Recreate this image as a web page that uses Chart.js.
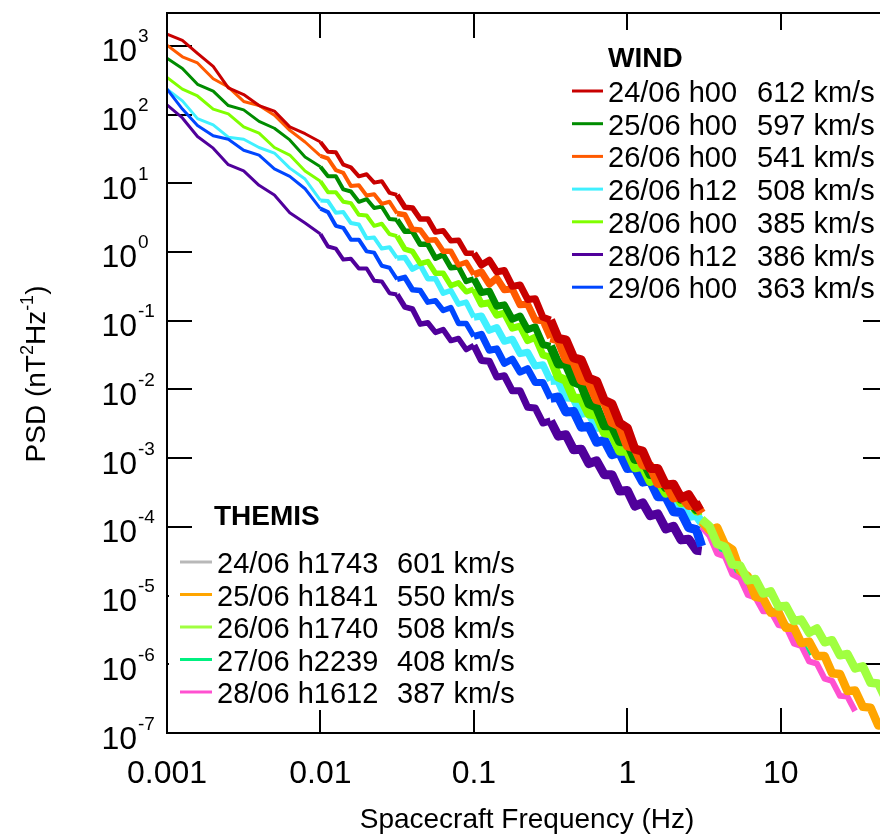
<!DOCTYPE html>
<html>
<head>
<meta charset="utf-8">
<script src="https://cdn.jsdelivr.net/npm/chart.js@4.4.0/dist/chart.umd.min.js"></script>
<style>
  html, body { margin: 0; padding: 0; overflow: hidden; background: #fff; }
  #wrap { width: 900px; height: 834px; }
</style>
</head>
<body>
<div id="wrap"><canvas id="psd" width="900" height="834"></canvas></div>
<script>
// Frecuencias (Hz)
const windFreq = [
  0.001, 0.00126, 0.00158, 0.002, 0.00251, 0.00316, 0.00398, 0.00501, 0.00631, 0.00794,
  0.01, 0.0112, 0.0126, 0.0141, 0.0158, 0.0178, 0.02, 0.0224, 0.0251, 0.0282,
  0.0316, 0.0355, 0.0398, 0.0447, 0.0501, 0.0562, 0.0631, 0.0708, 0.0794, 0.0891,
  0.1, 0.112, 0.126, 0.141, 0.158, 0.178, 0.2, 0.224, 0.251, 0.282,
  0.316, 0.355, 0.398, 0.447, 0.501, 0.562, 0.631, 0.708, 0.794, 0.891,
  1, 1.12, 1.26, 1.41, 1.58, 1.78, 2, 2.24, 2.51, 2.82, 3.05
];
const themisFreq = [
  3.05, 3.43, 3.85, 4.32, 4.84, 5.43, 6.10, 6.84, 7.67, 8.61, 9.66, 10.8, 12.2,
  13.6, 15.3, 17.2, 19.3, 21.6, 24.3, 27.2, 30.5, 34.3, 38.5, 43.2, 48.4
];

// WIND (nT^2/Hz)
const wind2406h00 = [
  1480, 1200, 776, 501, 245, 195, 135, 112, 66, 52.5,
  39.8, 28.8, 28.2, 18.6, 17.0, 12.6, 13.5, 10.2, 10.7, 7.24,
  6.76, 4.47, 4.37, 3.02, 3.02, 1.95, 2.04, 1.45, 1.48, 0.955,
  0.955, 0.646, 0.759, 0.513, 0.537, 0.316, 0.331, 0.204, 0.209, 0.112,
  0.102, 0.055, 0.0525, 0.0288, 0.0269, 0.0145, 0.0132, 6.92e-3, 6.17e-3, 3.24e-3,
  2.75e-3, 1.35e-3, 1.26e-3, 7.08e-4, 7.08e-4, 4.07e-4, 4.17e-4, 2.63e-4, 2.95e-4, 1.95e-4,
  2.14e-4
];
const wind2506h00 = [
  661, 468, 275, 219, 135, 117, 79.4, 63.1, 42.7, 24.0,
  17.4, 12.6, 12.6, 8.13, 7.59, 5.37, 5.89, 4.37, 4.57, 3.02,
  2.95, 2.00, 2.00, 1.29, 1.29, 0.813, 0.912, 0.589, 0.603, 0.372,
  0.407, 0.257, 0.269, 0.162, 0.170, 0.105, 0.117, 0.0741, 0.0813, 0.0447,
  0.0427, 0.0234, 0.0234, 0.0129, 0.0117, 6.17e-3, 5.50e-3, 2.95e-3, 2.95e-3, 1.74e-3,
  1.70e-3, 9.55e-4, 9.55e-4, 5.75e-4, 5.62e-4, 3.72e-4, 3.63e-4, 2.51e-4, 2.45e-4, 1.78e-4,
  1.91e-4
];
const wind2606h00 = [
  1020, 692, 562, 331, 251, 155, 135, 97.7, 58.9, 39.8,
  25.1, 22.9, 15.5, 14.1, 9.12, 9.33, 6.61, 6.92, 5.01, 5.37,
  3.63, 3.47, 2.14, 2.09, 1.48, 1.51, 1.02, 1.02, 0.646, 0.708,
  0.468, 0.513, 0.339, 0.417, 0.282, 0.288, 0.170, 0.174, 0.102, 0.100,
  0.0562, 0.0525, 0.0275, 0.0257, 0.0135, 0.0129, 7.08e-3, 6.61e-3, 3.31e-3, 2.95e-3,
  1.51e-3, 1.41e-3, 7.94e-4, 7.76e-4, 4.27e-4, 4.27e-4, 2.63e-4, 2.82e-4, 2.04e-4, 2.09e-4,
  1.58e-4
];
const wind2606h12 = [
  234, 158, 87.1, 70.8, 46.8, 43.7, 33.1, 27.5, 16.6, 11.5,
  5.62, 5.50, 3.72, 3.80, 2.63, 2.51, 1.58, 1.62, 1.12, 1.17,
  0.813, 0.832, 0.562, 0.646, 0.407, 0.407, 0.251, 0.275, 0.174, 0.186,
  0.112, 0.117, 0.0724, 0.0794, 0.0501, 0.0537, 0.0331, 0.0347, 0.0219, 0.0229,
  0.0135, 0.0138, 7.76e-3, 7.59e-3, 4.47e-3, 4.68e-3, 2.82e-3, 2.82e-3, 1.58e-3, 1.62e-3,
  9.55e-4, 9.55e-4, 5.62e-4, 5.37e-4, 3.31e-4, 3.24e-4, 2.09e-4, 2.14e-4, 1.41e-4, 1.48e-4,
  1.15e-4
];
const wind2806h00 = [
  347, 234, 186, 120, 102, 66.1, 53.7, 33.1, 25.7, 15.1,
  10.7, 7.41, 7.41, 5.37, 5.13, 3.47, 3.39, 2.40, 2.57, 1.82,
  1.70, 1.10, 1.02, 0.676, 0.724, 0.490, 0.490, 0.324, 0.355, 0.263,
  0.288, 0.174, 0.182, 0.120, 0.129, 0.0776, 0.0832, 0.0513, 0.0575, 0.0316,
  0.0295, 0.0151, 0.0135, 7.41e-3, 7.41e-3, 4.37e-3, 4.27e-3, 2.34e-3, 2.24e-3, 1.26e-3,
  1.26e-3, 7.24e-4, 7.59e-4, 4.57e-4, 4.90e-4, 3.09e-4, 3.47e-4, 2.24e-4, 2.45e-4, 1.70e-4,
  1.74e-4
];
const wind2806h12 = [
  138, 89.1, 47.9, 32.4, 18.6, 15.1, 9.33, 6.76, 3.72, 2.63,
  1.82, 1.20, 1.12, 0.776, 0.794, 0.575, 0.575, 0.380, 0.372, 0.251,
  0.240, 0.158, 0.148, 0.0891, 0.0933, 0.0676, 0.0741, 0.0513, 0.0550, 0.0380,
  0.0437, 0.0263, 0.0257, 0.0151, 0.0158, 9.55e-3, 9.55e-3, 5.50e-3, 5.37e-3, 3.24e-3,
  3.47e-3, 2.09e-3, 2.19e-3, 1.32e-3, 1.35e-3, 8.32e-4, 9.12e-4, 5.75e-4, 5.75e-4, 3.31e-4,
  3.39e-4, 2.00e-4, 2.24e-4, 1.45e-4, 1.55e-4, 9.33e-5, 1.02e-4, 6.46e-5, 6.61e-5, 4.57e-5,
  4.47e-5
];
const wind2906h00 = [
  234, 120, 69.2, 49.0, 43.7, 30.2, 25.7, 16.2, 12.6, 8.32,
  4.27, 3.80, 2.40, 2.24, 1.51, 1.51, 1.02, 0.977, 0.631, 0.589,
  0.398, 0.427, 0.282, 0.275, 0.186, 0.195, 0.141, 0.155, 0.0912, 0.0912,
  0.0589, 0.0631, 0.0372, 0.0389, 0.0240, 0.0275, 0.0178, 0.0200, 0.0126, 0.0126,
  7.41e-3, 7.76e-3, 4.68e-3, 4.79e-3, 2.82e-3, 2.88e-3, 1.70e-3, 1.82e-3, 1.12e-3, 1.20e-3,
  7.08e-4, 7.24e-4, 4.47e-4, 4.68e-4, 2.75e-4, 2.75e-4, 1.66e-4, 1.62e-4, 9.77e-5, 9.12e-5,
  5.25e-5
];

// THEMIS (nT^2/Hz)
const themis2406 = [
  1.23e-4, 9.55e-5, 6.03e-5, 4.68e-5, 3.02e-5, 2.51e-5, 1.82e-5, 1.58e-5, 1.15e-5, 1.02e-5,
  7.41e-6, 6.46e-6, 4.68e-6, 4.07e-6, 3.09e-6, 2.95e-6, 2.24e-6, 2.04e-6, 1.45e-6, 1.32e-6,
  9.33e-7, 8.51e-7, 5.75e-7, 4.90e-7, 3.31e-7
];
const themis2506 = [
  1.20e-4, 8.91e-5, 9.77e-5, 5.50e-5, 4.68e-5, 2.29e-5, 1.91e-5, 9.55e-6, 9.12e-6, 5.62e-6,
  5.75e-6, 3.39e-6, 3.39e-6, 2.04e-6, 2.14e-6, 1.32e-6, 1.32e-6, 7.41e-7, 7.24e-7, 4.07e-7,
  4.17e-7, 2.40e-7, 2.34e-7, 1.29e-7, 1.32e-7
];
const themis2606 = [
  1.29e-4, 1.02e-4, 5.62e-5, 5.13e-5, 2.82e-5, 2.75e-5, 1.66e-5, 1.74e-5, 1.07e-5, 1.15e-5,
  6.92e-6, 7.08e-6, 4.27e-6, 4.47e-6, 2.88e-6, 3.31e-6, 2.09e-6, 2.24e-6, 1.35e-6, 1.41e-6,
  8.71e-7, 9.33e-7, 5.37e-7, 5.25e-7, 3.09e-7
];
const themis2706 = [
  1.10e-4, 7.59e-5, 5.01e-5, 3.98e-5, 2.51e-5, 2.00e-5, 1.32e-5, 1.05e-5, 7.24e-6, 6.31e-6,
  4.37e-6, 3.80e-6, 2.40e-6, 2.09e-6, 1.32e-6
];
const themis2806 = [
  1.00e-4, 7.41e-5, 4.07e-5, 3.72e-5, 2.04e-5, 1.78e-5, 1.02e-5, 9.33e-6, 5.89e-6, 5.89e-6,
  3.72e-6, 3.55e-6, 2.00e-6, 1.86e-6, 1.10e-6, 1.02e-6, 6.17e-7, 5.75e-7, 3.47e-7, 3.39e-7,
  2.09e-7
];

// Leyendas
const windLabels = ["24/06 h00", "25/06 h00", "26/06 h00", "26/06 h12", "28/06 h00", "28/06 h12", "29/06 h00"];
const windSpeeds = ["612 km/s", "597 km/s", "541 km/s", "508 km/s", "385 km/s", "386 km/s", "363 km/s"];
const themisLabels = ["24/06 h1743", "25/06 h1841", "26/06 h1740", "27/06 h2239", "28/06 h1612"];
const themisSpeeds = ["601 km/s", "550 km/s", "508 km/s", "408 km/s", "387 km/s"];

// Ejes
const xTicks = [0.001, 0.01, 0.1, 1, 10];
const xTickLabels = ["0.001", "0.01", "0.1", "1", "10"];
const yTicks = [1e3, 1e2, 1e1, 1, 1e-1, 1e-2, 1e-3, 1e-4, 1e-5, 1e-6, 1e-7];
const yTickExp = ["3", "2", "1", "0", "-1", "-2", "-3", "-4", "-5", "-6", "-7"];

const windColors = ["#c80000", "#008c00", "#ff5a00", "#40f0ff", "#80ff00", "#50009b", "#0046ff"];
const windOrder = [1, 3, 2, 6, 4, 7, 5];
const windData = [wind2406h00, wind2506h00, wind2606h00, wind2606h12, wind2806h00, wind2806h12, wind2906h00];
const themisColors = ["#b8b8b8", "#ffa500", "#a0ff40", "#00f080", "#ff50d0"];
const themisOrder = [9, 2, 1, 4, 3];
const themisData = [themis2406, themis2506, themis2606, themis2706, themis2806];

const FONT = "'Liberation Sans', Arial, Helvetica, sans-serif";
Chart.defaults.font.family = FONT;

// grosor según frecuencia (las bandas se ensanchan con el ruido)
function windWidth(ctx) {
  const f = windFreq[ctx.p0DataIndex];
  if (f < 0.01) return 3;
  if (f < 0.03) return 4;
  if (f < 0.1) return 5.5;
  if (f < 0.3) return 7;
  return 9;
}

const datasets = [];
windData.forEach((vals, i) => {
  datasets.push({
    label: windLabels[i],
    data: vals.map((v, k) => ({ x: windFreq[k], y: v })),
    borderColor: windColors[i],
    backgroundColor: windColors[i],
    borderWidth: 3,
    borderJoinStyle: "round",
    borderCapStyle: "butt",
    pointRadius: 0,
    tension: 0,
    order: windOrder[i],
    segment: { borderWidth: windWidth }
  });
});
themisData.forEach((vals, i) => {
  datasets.push({
    label: themisLabels[i],
    data: vals.map((v, k) => ({ x: themisFreq[k], y: v })),
    borderColor: themisColors[i],
    backgroundColor: themisColors[i],
    borderWidth: i === 1 || i === 2 ? 8.5 : 6,
    borderJoinStyle: "round",
    borderCapStyle: "butt",
    pointRadius: 0,
    tension: 0,
    order: themisOrder[i]
  });
});

const TICK = 25;

function drawLegend(ctx, title, titleX, titleY, lineX0, lineX1, textX, speedX, base0, step, labels, speeds, colors) {
  ctx.fillStyle = "#000";
  ctx.textAlign = "left";
  ctx.textBaseline = "alphabetic";
  ctx.font = "bold 28px " + FONT;
  ctx.fillText(title, titleX, titleY);
  ctx.font = "29px " + FONT;
  labels.forEach((lab, i) => {
    const b = base0 + i * step;
    ctx.strokeStyle = colors[i];
    ctx.lineWidth = 3;
    ctx.beginPath();
    ctx.moveTo(lineX0, b - 11);
    ctx.lineTo(lineX1, b - 11);
    ctx.stroke();
    ctx.fillText(lab, textX, b);
    ctx.fillText(speeds[i], speedX, b);
  });
}

const decor = {
  id: "decor",
  beforeDatasetsDraw(chart) {
    const { ctx, chartArea: a, scales: { x, y } } = chart;
    ctx.save();
    ctx.strokeStyle = "#000";
    ctx.lineWidth = 2;
    ctx.beginPath();
    xTicks.forEach(v => {
      const px = Math.round(x.getPixelForValue(v));
      ctx.moveTo(px, a.bottom); ctx.lineTo(px, a.bottom - TICK);
      ctx.moveTo(px, a.top); ctx.lineTo(px, a.top + TICK);
    });
    yTicks.forEach(v => {
      const py = Math.round(y.getPixelForValue(v));
      ctx.moveTo(a.left, py); ctx.lineTo(a.left + TICK, py);
      ctx.moveTo(a.right, py); ctx.lineTo(a.right - TICK, py);
    });
    ctx.stroke();
    ctx.restore();
  },
  afterDraw(chart) {
    const { ctx, chartArea: a, scales: { x, y } } = chart;
    ctx.save();

    // cajas blancas de las leyendas
    ctx.fillStyle = "#fff";
    ctx.fillRect(560, 30, 340, 276);
    ctx.fillRect(169, 540, 372, 170);

    // marco
    ctx.strokeStyle = "#000";
    ctx.lineWidth = 2;
    ctx.strokeRect(a.left, a.top, a.right - a.left, a.bottom - a.top);

    // etiquetas eje y
    ctx.fillStyle = "#000";
    ctx.textBaseline = "alphabetic";
    yTicks.forEach((v, i) => {
      const py = y.getPixelForValue(v);
      ctx.font = "32px " + FONT;
      ctx.textAlign = "right";
      ctx.fillText("10", 137, py + 15.5);
      ctx.font = "19px " + FONT;
      ctx.textAlign = "left";
      ctx.fillText(yTickExp[i], 138, py - 3.5);
    });

    // etiquetas eje x
    ctx.font = "32px " + FONT;
    ctx.textAlign = "center";
    xTicks.forEach((v, i) => {
      ctx.fillText(xTickLabels[i], x.getPixelForValue(v), 783);
    });

    // títulos
    ctx.font = "28px " + FONT;
    ctx.fillText("Spacecraft Frequency (Hz)", 527, 828);

    ctx.save();
    ctx.translate(45, 374);
    ctx.rotate(-Math.PI / 2);
    const parts = [["PSD (nT", 28, 0], ["2", 18, -12], ["Hz", 28, 0], ["-1", 18, -12], [")", 28, 0]];
    let total = 0;
    parts.forEach(p => { ctx.font = p[1] + "px " + FONT; total += ctx.measureText(p[0]).width; });
    let cx = -total / 2;
    ctx.textAlign = "left";
    parts.forEach(p => {
      ctx.font = p[1] + "px " + FONT;
      ctx.fillText(p[0], cx, p[2]);
      cx += ctx.measureText(p[0]).width;
    });
    ctx.restore();

    // leyendas
    drawLegend(ctx, "WIND", 608, 67, 572, 603, 608, 757, 102, 32.7, windLabels, windSpeeds, windColors);
    drawLegend(ctx, "THEMIS", 214, 525, 180, 212, 217, 397, 573, 32.5, themisLabels, themisSpeeds, themisColors);

    ctx.restore();
  }
};

new Chart(document.getElementById("psd"), {
  type: "line",
  data: { datasets },
  options: {
    responsive: false,
    animation: false,
    layout: { padding: { left: 167, top: 13, right: 12, bottom: 101 } },
    plugins: {
      legend: { display: false },
      tooltip: { enabled: false }
    },
    scales: {
      x: { type: "logarithmic", min: 0.001, max: 50, display: false },
      y: { type: "logarithmic", min: 1e-7, max: 3000, display: false }
    }
  },
  plugins: [decor]
});
</script>
</body>
</html>
